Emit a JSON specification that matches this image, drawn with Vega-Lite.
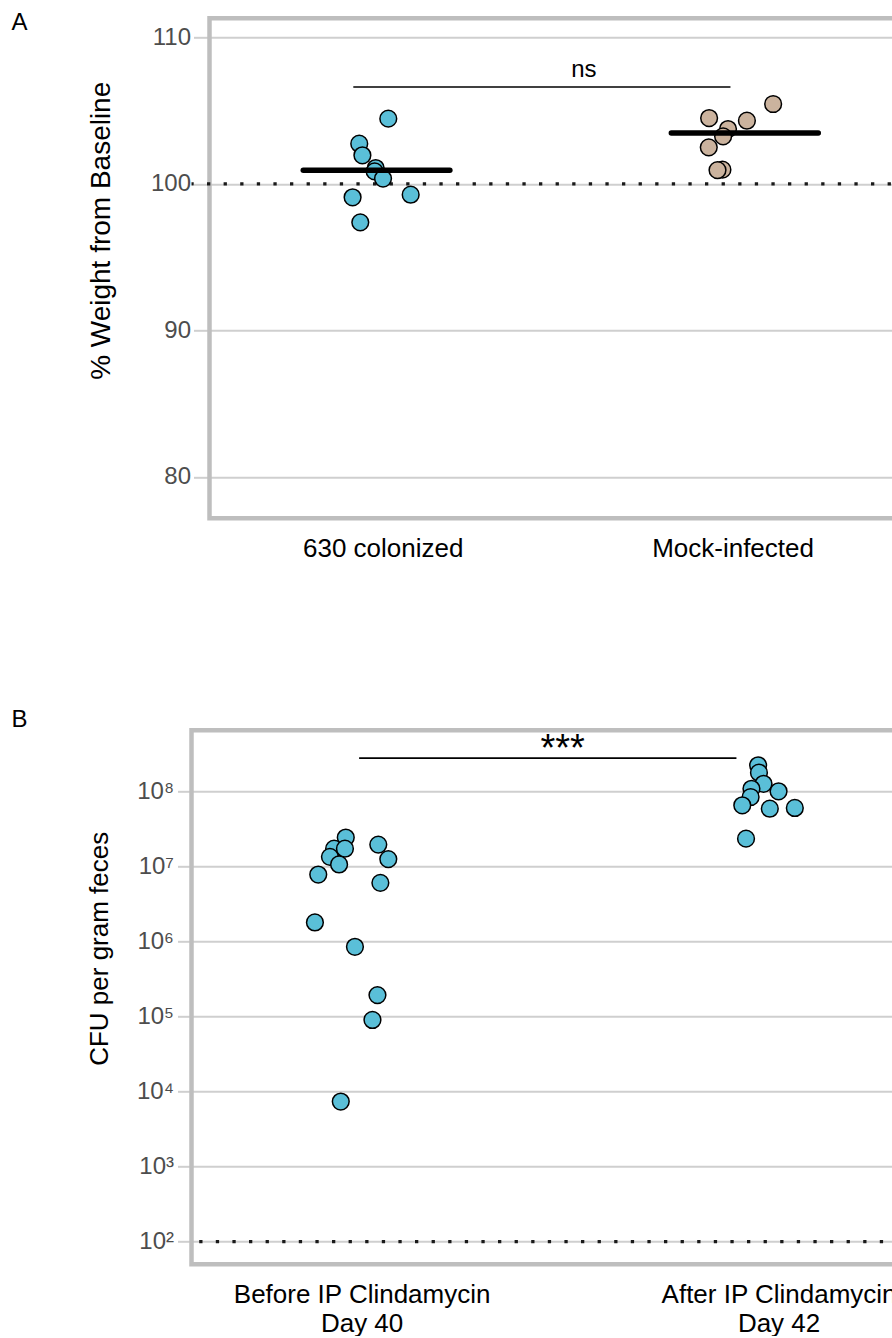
{
  "$schema": "https://vega.github.io/schema/vega-lite/v6.json",
  "background": "white",
  "padding": {"left": 11.5, "top": 10.3, "right": 0, "bottom": 0},
  "config": {
    "font": "Liberation Sans",
    "view": {"stroke": null},
    "axis": {
      "domain": false,
      "labelFont": "Liberation Sans",
      "titleFont": "Liberation Sans",
      "gridColor": "#cfcfcf",
      "gridWidth": 2,
      "tickColor": "#cfcfcf",
      "tickWidth": 2,
      "labelColor": "#4d4d4d",
      "titleColor": "#000000",
      "titleFontWeight": "normal"
    },
    "title": {
      "anchor": "start",
      "frame": "group",
      "fontSize": 24,
      "fontWeight": "normal",
      "color": "#000000",
      "baseline": "alphabetic",
      "offset": 0,
      "font": "Liberation Sans"
    }
  },
  "spacing": 146,
  "datasets": {
    "one": [{}],
    "weights": [
      {"g": "630 colonized", "x": 1.016, "y": 104.45},
      {"g": "630 colonized", "x": 0.933, "y": 102.74},
      {"g": "630 colonized", "x": 0.942, "y": 101.95},
      {"g": "630 colonized", "x": 0.98, "y": 101.08},
      {"g": "630 colonized", "x": 0.977, "y": 100.85},
      {"g": "630 colonized", "x": 1.001, "y": 100.36},
      {"g": "630 colonized", "x": 0.914, "y": 99.08},
      {"g": "630 colonized", "x": 1.08, "y": 99.26},
      {"g": "630 colonized", "x": 0.936, "y": 97.37},
      {"g": "Mock-infected", "x": 2.116, "y": 105.45},
      {"g": "Mock-infected", "x": 1.933, "y": 104.49},
      {"g": "Mock-infected", "x": 2.041, "y": 104.31},
      {"g": "Mock-infected", "x": 1.987, "y": 103.74},
      {"g": "Mock-infected", "x": 1.973, "y": 103.24},
      {"g": "Mock-infected", "x": 1.932, "y": 102.49},
      {"g": "Mock-infected", "x": 1.971, "y": 100.97},
      {"g": "Mock-infected", "x": 1.957, "y": 100.94}
    ],
    "weight_means": [
      {"x": 0.773, "x2": 1.192, "y": 100.92},
      {"x": 1.825, "x2": 2.245, "y": 103.47}
    ],
    "weight_test": [
      {"x": 0.916, "x2": 1.994, "y": 106.61, "tx": 1.575, "ty": 107.27, "label": "ns"}
    ],
    "cfu": [
      {"x": 0.962, "y": 24200000},
      {"x": 0.934, "y": 17200000},
      {"x": 0.96, "y": 17200000},
      {"x": 0.924, "y": 13400000},
      {"x": 0.946, "y": 10600000},
      {"x": 1.04, "y": 19500000},
      {"x": 1.064, "y": 12500000},
      {"x": 0.896, "y": 7780000},
      {"x": 1.045, "y": 6030000},
      {"x": 0.888, "y": 1790000},
      {"x": 0.984, "y": 849000},
      {"x": 1.038, "y": 193000},
      {"x": 1.026, "y": 89900},
      {"x": 0.95, "y": 7360},
      {"x": 1.951, "y": 222000000},
      {"x": 1.953, "y": 177000000},
      {"x": 1.964, "y": 126000000},
      {"x": 1.935, "y": 108000000},
      {"x": 2.0, "y": 100000000},
      {"x": 1.933, "y": 84000000},
      {"x": 1.913, "y": 65100000},
      {"x": 1.979, "y": 58700000},
      {"x": 2.039, "y": 60000000},
      {"x": 1.922, "y": 23400000}
    ],
    "cfu_test": [
      {"x": 0.994, "x2": 1.899, "y": 277000000, "tx": 1.482, "ty": 252000000, "label": "***"}
    ]
  },
  "vconcat": [
    {
      "title": {"text": "A", "dx": -180, "dy": 22.5},
      "width": 716,
      "height": 500,
      "layer": [
        {
          "data": {"name": "one"},
          "mark": {"type": "rect", "filled": false, "color": "#bebebe", "strokeWidth": 4.5},
          "encoding": {
            "x": {"datum": 0.505, "type": "quantitative"},
            "x2": {"datum": 2.5},
            "y": {"datum": 77.17, "type": "quantitative"},
            "y2": {"datum": 111.3}
          }
        },
        {
          "data": {"name": "one"},
          "mark": {"type": "rule", "strokeDash": [3.3, 13.3], "strokeWidth": 3.3, "color": "#1a1a1a"},
          "encoding": {"y": {"datum": 100, "type": "quantitative"}}
        },
        {
          "data": {"name": "weights"},
          "mark": {"type": "circle", "size": 280, "stroke": "#000000", "strokeWidth": 1.5, "opacity": 1},
          "encoding": {
            "x": {
              "field": "x",
              "type": "quantitative",
              "scale": {"domain": [0.505, 2.5], "range": [18, 716], "nice": false, "zero": false},
              "axis": {
                "values": [1, 2],
                "labelExpr": "datum.value == 1 ? '630 colonized' : 'Mock-infected'",
                "ticks": false,
                "grid": false,
                "labelPadding": 17.5,
                "labelFontSize": 26,
                "labelLimit": 0,
                "labelColor": "#000000",
                "title": null
              }
            },
            "y": {
              "field": "y",
              "type": "quantitative",
              "scale": {"domain": [77.17, 111.3], "nice": false, "zero": false},
              "axis": {
                "values": [80, 90, 100, 110],
                "grid": true,
                "offset": -18,
                "tickSize": 16,
                "labelPadding": 3,
                "labelFontSize": 24,
                "title": "% Weight from Baseline",
                "titleFontSize": 28,
                "titleY": 212,
                "titlePadding": 35
              }
            },
            "color": {
              "field": "g",
              "type": "nominal",
              "scale": {"domain": ["630 colonized", "Mock-infected"], "range": ["#5abfd8", "#cbb39e"]},
              "legend": null
            }
          }
        },
        {
          "data": {"name": "weight_means"},
          "mark": {"type": "rule", "strokeWidth": 5.5, "strokeCap": "round", "color": "#000000"},
          "encoding": {
            "x": {"field": "x", "type": "quantitative"},
            "x2": {"field": "x2"},
            "y": {"field": "y", "type": "quantitative"}
          }
        },
        {
          "data": {"name": "weight_test"},
          "mark": {"type": "rule", "strokeWidth": 1.6, "color": "#000000"},
          "encoding": {
            "x": {"field": "x", "type": "quantitative"},
            "x2": {"field": "x2"},
            "y": {"field": "y", "type": "quantitative"}
          }
        },
        {
          "data": {"name": "weight_test"},
          "mark": {"type": "text", "fontSize": 24, "baseline": "alphabetic", "align": "center", "color": "#000000"},
          "encoding": {
            "x": {"field": "tx", "type": "quantitative"},
            "y": {"field": "ty", "type": "quantitative"},
            "text": {"field": "label"}
          }
        }
      ]
    },
    {
      "title": {"text": "B", "dx": -180, "dy": 8.25},
      "width": 758,
      "height": 534,
      "layer": [
        {
          "data": {"name": "one"},
          "mark": {"type": "rect", "filled": false, "color": "#bebebe", "strokeWidth": 4.5},
          "encoding": {
            "x": {"datum": 0.592, "type": "quantitative"},
            "x2": {"datum": 2.41},
            "y": {"datum": 50, "type": "quantitative"},
            "y2": {"datum": 650000000}
          }
        },
        {
          "data": {"name": "one"},
          "mark": {"type": "rule", "strokeDash": [3.3, 13.3], "strokeWidth": 3.3, "color": "#1a1a1a"},
          "encoding": {"y": {"datum": 100, "type": "quantitative"}}
        },
        {
          "data": {"name": "cfu"},
          "mark": {"type": "circle", "size": 280, "color": "#5abfd8", "stroke": "#000000", "strokeWidth": 1.5, "opacity": 1},
          "encoding": {
            "x": {
              "field": "x",
              "type": "quantitative",
              "scale": {"domain": [0.592, 2.41], "nice": false, "zero": false},
              "axis": {
                "values": [1, 2],
                "labelExpr": "datum.value == 1 ? ['Before IP Clindamycin', 'Day 40'] : ['After IP Clindamycin', 'Day 42']",
                "ticks": false,
                "grid": false,
                "labelPadding": 17,
                "labelFontSize": 26,
                "labelLineHeight": 29,
                "labelLimit": 0,
                "labelColor": "#000000",
                "title": null
              }
            },
            "y": {
              "field": "y",
              "type": "quantitative",
              "scale": {"type": "log", "domain": [50, 650000000], "nice": false},
              "axis": {
                "values": [100, 1000, 10000, 100000, 1000000, 10000000, 100000000],
                "grid": true,
                "labelExpr": "'10' + ['⁰','¹','²','³','⁴','⁵','⁶','⁷','⁸','⁹'][round(log(datum.value) / LN10)]",
                "tickSize": 14,
                "labelPadding": 4,
                "labelFontSize": 24,
                "title": "CFU per gram feces",
                "titleFontSize": 26,
                "titleY": 218,
                "titlePadding": 24
              }
            }
          }
        },
        {
          "data": {"name": "cfu_test"},
          "mark": {"type": "rule", "strokeWidth": 1.6, "color": "#000000"},
          "encoding": {
            "x": {"field": "x", "type": "quantitative"},
            "x2": {"field": "x2"},
            "y": {"field": "y", "type": "quantitative"}
          }
        },
        {
          "data": {"name": "cfu_test"},
          "mark": {"type": "text", "fontSize": 38, "baseline": "alphabetic", "align": "center", "color": "#000000"},
          "encoding": {
            "x": {"field": "tx", "type": "quantitative"},
            "y": {"field": "ty", "type": "quantitative"},
            "text": {"field": "label"}
          }
        }
      ]
    }
  ]
}
